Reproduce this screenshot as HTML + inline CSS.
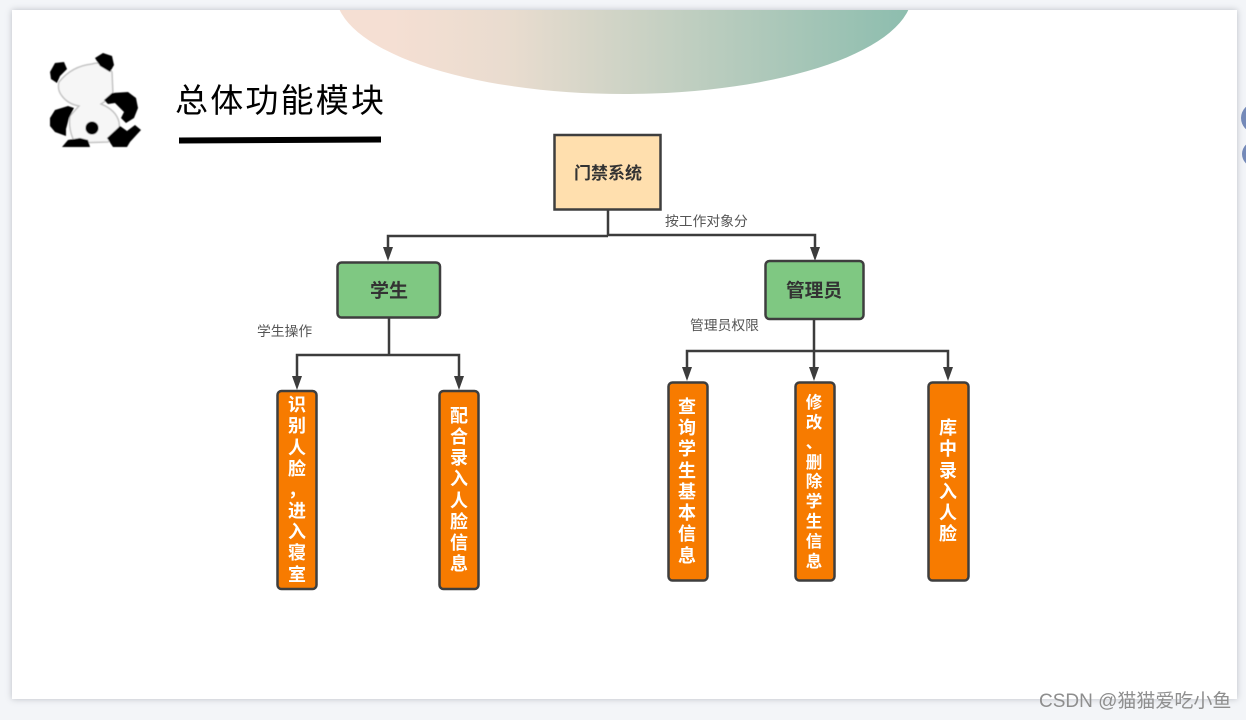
<!DOCTYPE html>
<html><head><meta charset="utf-8">
<style>
html,body{margin:0;padding:0;width:1246px;height:720px;overflow:hidden;background:#f3f5f8}
#p{position:absolute;left:12px;top:10px;width:1225px;height:689px;background:#fff;box-shadow:0 0 6px rgba(120,125,135,.45)}
svg{position:absolute;left:0;top:0}
text{font-family:"Liberation Sans","Noto Sans CJK SC",sans-serif}
.v{font-size:18px;font-weight:700;fill:#fff;text-anchor:middle}
.h{font-weight:700;fill:#333;text-anchor:middle}
.l{font-size:13.800px;fill:#555}
</style></head><body>
<div id="p"></div>
<svg width="1246" height="720" viewBox="0 0 1246 720">
<defs>
<linearGradient id="g" x1="0" x2="1" y1="0" y2="0"><stop offset="0.1" stop-color="#f5dfd3"/><stop offset="0.3" stop-color="#e9dccf"/><stop offset="1" stop-color="#8cbdae"/></linearGradient>
<clipPath id="c"><rect x="12" y="10" width="1225" height="689"/></clipPath>
<filter id="b" x="-10%" y="-10%" width="120%" height="120%"><feGaussianBlur stdDeviation="0.6"/></filter>
</defs>
<circle cx="1256" cy="118" r="15" fill="#7489b8"/>
<circle cx="1255" cy="154" r="13" fill="#7489b8"/>
<rect x="12" y="10" width="1225" height="689" fill="#fff"/>
<ellipse cx="624" cy="-6" rx="288" ry="100" fill="url(#g)" clip-path="url(#c)"/>

<!-- panda -->
<g filter="url(#b)">
<path d="M59 82 Q72 66 92 64 Q104 60 112 72 L113 95 L109 99 Q104 102 101 104 Q116 110 119 122 L120 134 L108 142 L75 143 Q68 130 70 116 L79 106 Q68 104 62 96 Q57 90 59 82Z" fill="#f6f6f6" stroke="#c4c4c4" stroke-width="1.500"/>
<path d="M50 72 L55 63 L64 62 L67 69 L60 76 L57 83 L51 79Z" fill="#000"/>
<path d="M95 58 L103 53 L112 56 L114 65 L110 72 L100 66Z" fill="#000"/>
<path d="M104 100 L112 93 L128 92 L136 98 L138 108 L134 118 L126 123 L121 118 L124 112 L120 108 L115 103 L108 104Z" fill="#000"/>
<path d="M50 118 L55 110 L68 106 L74 108 L69 118 L66 129 L66 136 L55 132 L50 126Z" fill="#000"/>
<circle cx="92" cy="128" r="6.500" fill="#000"/>
<path d="M107 138 L120 126 L127 131 L135 125 L141 130 L130 142 L127 147 L113 147Z" fill="#000"/>
<path d="M62 147 L68 140 L80 138 L88 140 L90 147Z" fill="#000"/>
</g>

<text x="175" y="112" font-size="33" letter-spacing="2.2" fill="#000" style="font-family:'WenQuanYi Zen Hei','Noto Sans CJK SC',sans-serif">总体功能模块</text>
<path d="M179 137.500L381 136.500V142.500L179 143.500Z" fill="#000"/>

<!-- connectors -->
<g fill="none" stroke="#3c3c3c" stroke-width="2.500">
<path d="M608 210V236"/>
<path d="M388 250V236H608"/>
<path d="M608 235H815V250"/>
<path d="M389 318V355"/>
<path d="M297 380V355H459V380"/>
<path d="M814 320V370"/>
<path d="M687 370V351H948V370"/>
</g>
<g fill="#3c3c3c">
<path d="M383 247h10l-5 14z"/>
<path d="M810 247h10l-5 14z"/>
<path d="M292 376h10l-5 14z"/>
<path d="M454 376h10l-5 14z"/>
<path d="M682 367h10l-5 14z"/>
<path d="M809 367h10l-5 14z"/>
<path d="M943 367h10l-5 14z"/>
</g>

<!-- boxes -->
<g stroke="#3e3e3e" stroke-width="2.500">
<rect x="554.500" y="135" width="106" height="74.500" fill="#ffdfae"/>
<rect x="337.500" y="262.500" width="102.500" height="55" rx="4" fill="#7fc882"/>
<rect x="765.500" y="261" width="98" height="58" rx="4" fill="#7fc882"/>
<g fill="#f77b00">
<rect x="277.500" y="391" width="39" height="198" rx="4"/>
<rect x="439.500" y="391" width="39" height="198" rx="4"/>
<rect x="668.500" y="382.500" width="39" height="198" rx="4"/>
<rect x="795.500" y="382.500" width="39" height="198" rx="4"/>
<rect x="928.500" y="382.500" width="40" height="198" rx="4"/>
</g>
</g>

<text class="h" x="608" y="179" font-size="17">门禁系统</text>
<text class="h" x="389" y="297" font-size="19">学生</text>
<text class="h" x="814" y="297" font-size="18.700">管理员</text>

<text class="l" x="665" y="226">按工作对象分</text>
<text class="l" x="257" y="336">学生操作</text>
<text class="l" x="690" y="330">管理员权限</text>

<g class="vg">
<text class="v" x="297" y="411">识</text>
<text class="v" x="297" y="432">别</text>
<text class="v" x="297" y="454">人</text>
<text class="v" x="297" y="475">脸</text>
<text class="v" x="297" y="496">，</text>
<text class="v" x="297" y="517">进</text>
<text class="v" x="297" y="538">入</text>
<text class="v" x="297" y="559">寝</text>
<text class="v" x="297" y="581">室</text>

<text class="v" x="459" y="422">配</text>
<text class="v" x="459" y="443">合</text>
<text class="v" x="459" y="464">录</text>
<text class="v" x="459" y="485">入</text>
<text class="v" x="459" y="507">人</text>
<text class="v" x="459" y="528">脸</text>
<text class="v" x="459" y="549">信</text>
<text class="v" x="459" y="570">息</text>

<text class="v" x="687" y="413">查</text>
<text class="v" x="687" y="434">询</text>
<text class="v" x="687" y="455">学</text>
<text class="v" x="687" y="477">生</text>
<text class="v" x="687" y="498">基</text>
<text class="v" x="687" y="519">本</text>
<text class="v" x="687" y="540">信</text>
<text class="v" x="687" y="562">息</text>

<text class="v" style="font-size:16.500px" x="814" y="408">修</text>
<text class="v" style="font-size:16.500px" x="814" y="428">改</text>
<text class="v" style="font-size:16.500px" x="814" y="448">、</text>
<text class="v" style="font-size:16.500px" x="814" y="468">删</text>
<text class="v" style="font-size:16.500px" x="814" y="487">除</text>
<text class="v" style="font-size:16.500px" x="814" y="507">学</text>
<text class="v" style="font-size:16.500px" x="814" y="527">生</text>
<text class="v" style="font-size:16.500px" x="814" y="547">信</text>
<text class="v" style="font-size:16.500px" x="814" y="567">息</text>

<text class="v" x="948" y="434">库</text>
<text class="v" x="948" y="455">中</text>
<text class="v" x="948" y="477">录</text>
<text class="v" x="948" y="498">入</text>
<text class="v" x="948" y="519">人</text>
<text class="v" x="948" y="540">脸</text>
</g>

<text x="1039" y="707" font-size="19" fill="#8e8e8e">CSDN @猫猫爱吃小鱼</text>
</svg>
</body></html>
